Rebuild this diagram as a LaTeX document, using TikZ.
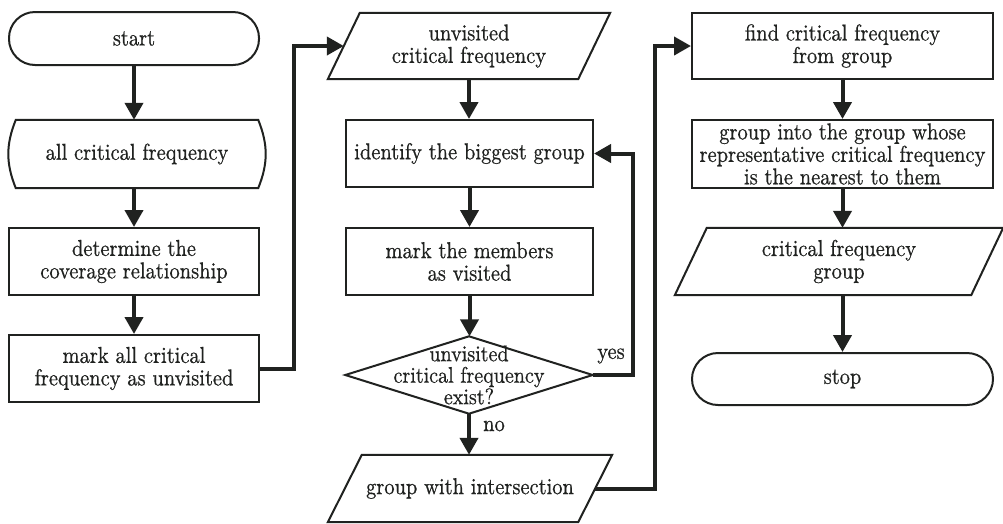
\documentclass[tikz,border=0pt]{standalone}
\usepackage{fontspec}
\setmainfont{lmroman10-regular.otf}[FakeStretch=0.89, FakeBold=0.6]
\usetikzlibrary{arrows.meta}
\definecolor{ink}{RGB}{32,34,32}
\begin{document}
\begin{tikzpicture}[x=1pt,y=-1pt,
  box/.style={draw=ink, line width=2pt},
  txt/.style={font=\fontsize{23}{22.5}\selectfont, text=ink, align=center, inner sep=0pt},
  arr/.style={draw=ink, line width=4pt, -{Triangle[length=17pt,width=18pt]}},
  lbl/.style={font=\fontsize{23}{22.5}\selectfont, text=ink, inner sep=0pt}
]
\useasboundingbox[fill=white] (0,0) rectangle (1003,523);

% column 1
\node[txt, box, rounded corners=26pt, minimum width=250pt, minimum height=53pt] (start) at (134,38.5) {start};
\node[txt, minimum width=254pt, minimum height=68pt] (all) at (137,154) {all critical frequency};
\node[txt, box, minimum width=250pt, minimum height=67pt] (det) at (134,261.5) {determine the\\coverage relationship};
\node[txt, box, minimum width=250pt, minimum height=67pt] (markall) at (134,368.5) {mark all critical\\frequency as unvisited};

% column 2
\node[txt, minimum width=250pt, minimum height=66pt] (unv) at (469,46) {unvisited\\critical frequency};
\node[txt, box, minimum width=247pt, minimum height=67pt] (ident) at (469.5,153.5) {identify the biggest group};
\node[txt, box, minimum width=247pt, minimum height=67pt] (markmem) at (469.5,261.5) {mark the members\\as visited};
\node[txt, font=\fontsize{22.5}{21.5}\selectfont, minimum width=247pt, minimum height=77pt] (exist) at (469,375) {unvisited\\critical frequency\\exist?};
\node[txt, minimum width=250pt, minimum height=67pt] (grp) at (470,488.5) {group with intersection};

% column 3
\node[txt, box, minimum width=301pt, minimum height=66pt] (find) at (842.5,46) {find critical frequency\\from group};
\node[txt, box, minimum width=301pt, minimum height=68pt] (into) at (842.5,154) {group into the group whose\\representative critical frequency\\is the nearest to them};
\node[txt, minimum width=296pt, minimum height=67pt] (cfg) at (839,261.5) {critical frequency\\group};
\node[txt, box, rounded corners=26pt, minimum width=301pt, minimum height=52pt] (stop) at (842.5,379) {stop};

% special outlines
\draw[box] ([xshift=6pt]all.north west) -- ([xshift=-6pt]all.north east)
  to[bend left=22] ([xshift=-6pt]all.south east)
  -- ([xshift=6pt]all.south west)
  to[bend left=22] cycle;
\draw[box] ([xshift=16pt]unv.north west) -- ([xshift=16pt]unv.north east) -- ([xshift=-16pt]unv.south east) -- ([xshift=-16pt]unv.south west) -- cycle;
\draw[box] ([xshift=17pt]grp.north west) -- ([xshift=17pt]grp.north east) -- ([xshift=-17pt]grp.south east) -- ([xshift=-17pt]grp.south west) -- cycle;
\draw[box] ([xshift=16pt]cfg.north west) -- ([xshift=16pt]cfg.north east) -- ([xshift=-16pt]cfg.south east) -- ([xshift=-16pt]cfg.south west) -- cycle;
\draw[box] (exist.north) -- (exist.east) -- (exist.south) -- (exist.west) -- cycle;

% connectors column 1
\draw[arr] (start.south) -- (start.south |- all.north);
\draw[arr] (start.south |- all.south) -- (det.north);
\draw[arr] (det.south) -- (markall.north);
\draw[arr] (markall.east) -- ([xshift=34pt]markall.east) |- (unv.west);

% connectors column 2
\draw[arr] (unv.south) -- (unv.south |- ident.north);
\draw[arr] (ident.south) -- (markmem.north);
\draw[arr] (markmem.south) -- (markmem.south |- exist.north);
\draw[arr] (exist.south) -- (exist.south |- grp.north);
\node[lbl] (no) at (494,426) {no};
\draw[arr] (exist.east) -- ([xshift=40pt]exist.east) |- (ident.east);
\node[lbl] (yes) at (611,356) {yes};
\draw[arr] (grp.east) -- ([xshift=60pt]grp.east) |- (find.west);

% connectors column 3
\draw[arr] (find.south) -- (into.north);
\draw[arr] (into.south) -- (into.south |- cfg.north);
\draw[arr] (into.south |- cfg.south) -- (stop.north);
\end{tikzpicture}
\end{document}
